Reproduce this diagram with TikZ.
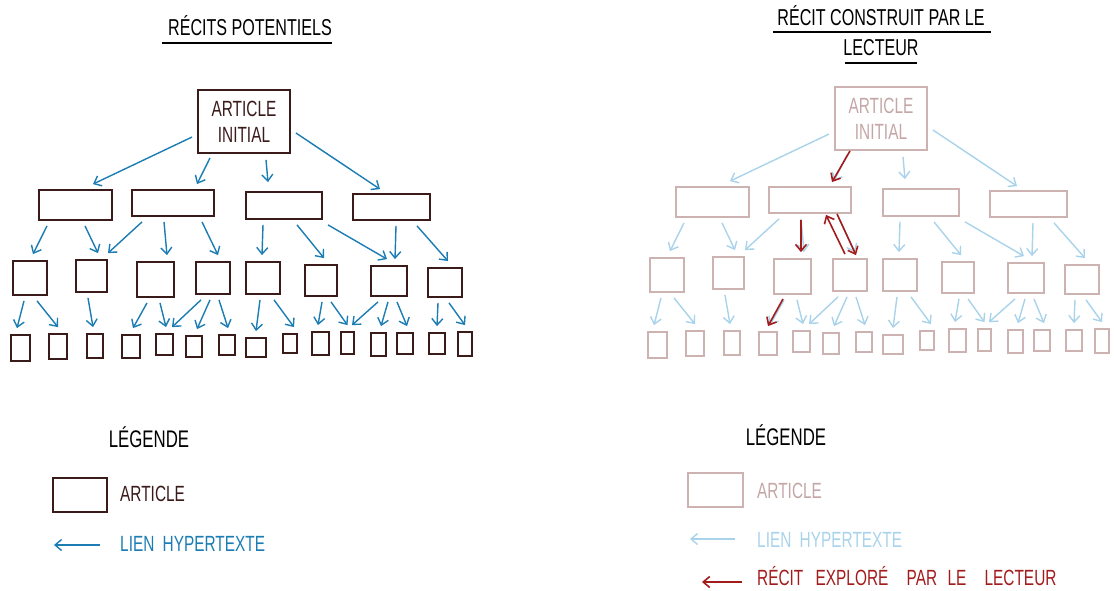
\documentclass[tikz,border=0pt]{standalone}
\usepackage{fontspec}
\newfontfamily\hand[FakeStretch=0.7]{Liberation Sans}
\usetikzlibrary{arrows.meta,calc}

\definecolor{boxdark}{HTML}{3B1A1A}
\definecolor{linkblue}{HTML}{1B7DB3}
\definecolor{boxpale}{HTML}{CDB2B2}
\definecolor{textpale}{HTML}{C4A6A6}
\definecolor{linkpale}{HTML}{A9D3EA}
\definecolor{readred}{HTML}{A31C1C}

% one tree of articles, drawn with the current art / link styles
\newcommand{\articletree}{%
  \node[artbox={92}{63}, handtext, align=center] (root) at (244,121.5) {ARTICLE\\INITIAL};
  % first level
  \node[artbox={73}{30}] (A) at (75.5,205) {};
  \node[artbox={82}{26}] (B) at (173,203) {};
  \node[artbox={76}{27}] (C) at (284,205.5) {};
  \node[artbox={77}{26}] (D) at (391.5,207) {};
  % second level
  \node[artbox={34}{34}] (a1) at (30,278) {};
  \node[artbox={31}{32}] (a2) at (91.5,276) {};
  \node[artbox={37}{35}] (a3) at (155.5,279.5) {};
  \node[artbox={34}{32}] (a4) at (213,278) {};
  \node[artbox={34}{32}] (a5) at (263,278) {};
  \node[artbox={32}{31}] (a6) at (321,280.5) {};
  \node[artbox={36}{30}] (a7) at (389,281) {};
  \node[artbox={34}{29}] (a8) at (445,282.5) {};
  % third level
  \node[artbox={19}{26}] (b1) at (20.5,348) {};
  \node[artbox={18}{25}] (b2) at (58,346.5) {};
  \node[artbox={16}{24}] (b3) at (95,346) {};
  \node[artbox={18}{23}] (b4) at (131,346.5) {};
  \node[artbox={17}{21}] (b5) at (164.5,344.5) {};
  \node[artbox={16}{21}] (b6) at (194,346.5) {};
  \node[artbox={16}{20}] (b7) at (227,345) {};
  \node[artbox={20}{19}] (b8) at (256,347.5) {};
  \node[artbox={14}{19}] (b9) at (290,343.5) {};
  \node[artbox={17}{23}] (b10) at (320.5,343.5) {};
  \node[artbox={13}{22}] (b11) at (347.5,343) {};
  \node[artbox={15}{23}] (b12) at (378.5,344.5) {};
  \node[artbox={16}{21}] (b13) at (405,343.5) {};
  \node[artbox={16}{21}] (b14) at (437,343.5) {};
  \node[artbox={14}{24}] (b15) at (465,344) {};
  % links
  \draw[link] ($(root.west)+(-5,15.5)$) -- ($(A.north)+(17.5,-5)$);
  \draw[link] ($(root.south)+(-34,4)$) -- ($(B.north)+(24,-5)$);
  \draw[link] ($(root.south)+(22,6)$) -- ($(C.north)+(-16,-9)$);
  \draw[link] ($(root.east)+(5,11.5)$) -- ($(D.north)+(-11.5,-4)$);
  \foreach \p/\dx/\c/\ex in {A/-28.5/a1/3, A/9.5/a2/6.5, B/-31/a2/16.5, B/-9/a3/11.5,
      B/29/a4/5, C/-21/a5/-1, C/13/a6/3, C/44/a7/-2, D/4.5/a7/6, D/25.5/a8/3,
      a1/-6/b1/-3.5, a1/7/b2/0, a2/-3.5/b3/-2, a3/-8.5/b4/2, a3/4.5/b5/1.5,
      a4/-12/b5/7.5, a4/-3/b6/3, a4/6/b7/1, a5/-3/b8/0, a5/11/b9/4,
      a6/1/b10/-2.5, a6/10/b11/0, a7/-11/b11/4.5, a7/-1/b12/2.5, a7/8/b13/2,
      a8/-7/b14/0, a8/4/b15/0}
    \draw[link] ($(\p.south)+(\dx,5)$) -- ($(\c.north)+(\ex,-6)$);
}

\begin{document}
\begin{tikzpicture}[x=1pt, y=-1pt,
    handtext/.style={font=\hand\fontsize{22}{26}\selectfont, inner sep=0pt},
    heading/.style={font=\hand\fontsize{23}{26}\selectfont, text=black, inner sep=0pt},
    titlerule/.style={black, line width=1.8pt},
    artbox/.style 2 args={art, rectangle, inner sep=0pt, minimum width=#1, minimum height=#2},
    artL/.style={draw=boxdark, line width=1.8pt, text=boxdark},
    artR/.style={draw=boxpale, line width=1.8pt, text=textpale},
    linkL/.style={draw=linkblue, line width=1.4pt, -{Straight Barb[length=6.5pt,width=11pt]}},
    linkR/.style={draw=linkpale, line width=1.4pt, -{Straight Barb[length=6.5pt,width=11pt]}},
    explored/.style={draw=readred, line width=1.6pt, -{Straight Barb[length=6.5pt,width=11pt]}}]
  \useasboundingbox (0,0) rectangle (1114,590);

  % titles
  \node[heading, anchor=base] (t1) at (250,35) {RÉCITS POTENTIELS};
  \draw[titlerule] ($(t1.base west)+(-6,8)$) -- ($(t1.base east)+(0,8)$);
  \node[heading, anchor=base] (t2) at (881,25) {RÉCIT CONSTRUIT PAR LE};
  \draw[titlerule] ($(t2.base west)+(-4,7)$) -- ($(t2.base east)+(6,7)$);
  \node[heading, anchor=base] (t3) at (881,55) {LECTEUR};
  \draw[titlerule] ($(t3.base west)+(2,8)$) -- ($(t3.base east)+(-2,8)$);

  % potential stories
  \begin{scope}[name prefix=L-, art/.style=artL, link/.style=linkL]
    \articletree
  \end{scope}

  % story built by the reader
  \begin{scope}[shift={(637,-3)}, name prefix=R-, art/.style=artR, link/.style=linkR]
    \articletree
    \draw[explored] ($(root.south)+(-31,0)$) -- ($(B.north)+(22,-4)$);
    \draw[explored] ($(B.south)+(-9,6)$) -- ($(a3.north)+(8.5,-6)$);
    \draw[explored] ($(B.south)+(27,0)$) -- ($(a4.north)+(6,-3)$);
    \draw[explored] ($(a4.north)+(-5,-4)$) -- ($(B.south)+(16,1)$);
    \draw[explored] ($(a3.south)+(-9.5,4)$) -- ($(b4.north)+(0,-5)$);
  \end{scope}

  % legends
  \node[heading, font=\hand\fontsize{24}{26}\selectfont, anchor=base] (lg1) at (149,447) {LÉGENDE};
  \node[art/.style=artL, artbox={54}{34}] (k1) at (80,495) {};
  \node[handtext, text=boxdark, anchor=west] (k1t) at (120,494) {ARTICLE};
  \coordinate (k2a) at (100,545);
  \coordinate (k2b) at (54,545);
  \draw[linkL] (k2a) -- (k2b);
  \node[handtext, text=linkblue, anchor=west] (k2t) at (120,544) {LIEN\hspace{4pt} HYPERTEXTE};

  \node[heading, font=\hand\fontsize{24}{26}\selectfont, anchor=base] (lg2) at (786,445) {LÉGENDE};
  \node[art/.style=artR, artbox={55}{34}] (k3) at (715.5,490) {};
  \node[handtext, text=textpale, anchor=west] (k3t) at (757,491) {ARTICLE};
  \coordinate (k4a) at (735,539);
  \coordinate (k4b) at (690,539);
  \draw[linkR] (k4a) -- (k4b);
  \node[handtext, text=linkpale, anchor=west] (k4t) at (757,540) {LIEN\hspace{4pt} HYPERTEXTE};
  \coordinate (k5a) at (742,582);
  \coordinate (k5b) at (702,582);
  \draw[explored] (k5a) -- (k5b);
  \node[handtext, text=readred, anchor=west] (k5t) at (757,576) {RÉCIT\hspace{8pt} EXPLORÉ\hspace{14pt} PAR\hspace{6pt} LE\hspace{14pt} LECTEUR};
\end{tikzpicture}
\end{document}
